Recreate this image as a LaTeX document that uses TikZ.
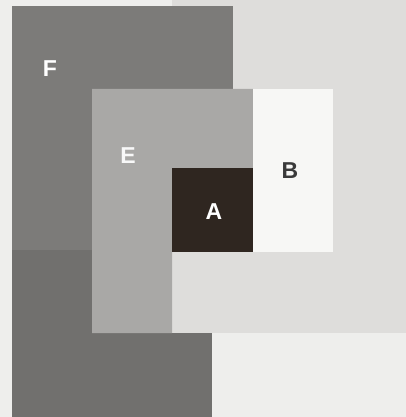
\documentclass[tikz,border=0pt]{standalone}
\usepackage{fontspec}
\setmainfont{Liberation Sans}
\usepackage{xcolor}
\usepackage{tikz}
\usetikzlibrary{positioning}

\definecolor{paper}{HTML}{EEEEEC}
\definecolor{fieldD}{HTML}{DEDDDB}
\definecolor{fieldF}{HTML}{7C7B79}
\definecolor{fieldG}{HTML}{71706E}
\definecolor{fieldE}{HTML}{A9A8A6}
\definecolor{fieldB}{HTML}{F7F7F5}
\definecolor{fieldA}{HTML}{2F2620}
\definecolor{inkdark}{HTML}{3A3A3A}

\begin{document}
\begin{tikzpicture}[x=1pt, y=-1pt, every node/.style={font=\fontsize{23}{23}\selectfont\bfseries, inner sep=0pt}]
    % Paper
    \fill[paper] (0,0) rectangle (406,417);
    \useasboundingbox (0,0) rectangle (406,417);

    % Lower dark field
    \fill[fieldG] (12,250) rectangle (212,417);

    % Light field behind B
    \fill[fieldD] (172,0) rectangle (406,333);

    % Field F
    \fill[fieldF] (12,6) rectangle (233,250);
    \node[white] (labF) at (50,69) {F};

    % Field E
    \fill[fieldE] (92,89) -- (253,89) -- (253,168) -- (172,168) -- (172,333) -- (92,333) -- cycle;
    \node[white!92!fieldE] (labE) at (128,155.5) {E};

    % Field B
    \fill[fieldB] (253,89) rectangle (333,252);
    \node[inkdark] (labB) at (290,170.5) {B};

    % Field A
    \fill[fieldA] (172,168) rectangle (253,252);
    \node[white] (labA) at (214,211.5) {A};
\end{tikzpicture}
\end{document}
